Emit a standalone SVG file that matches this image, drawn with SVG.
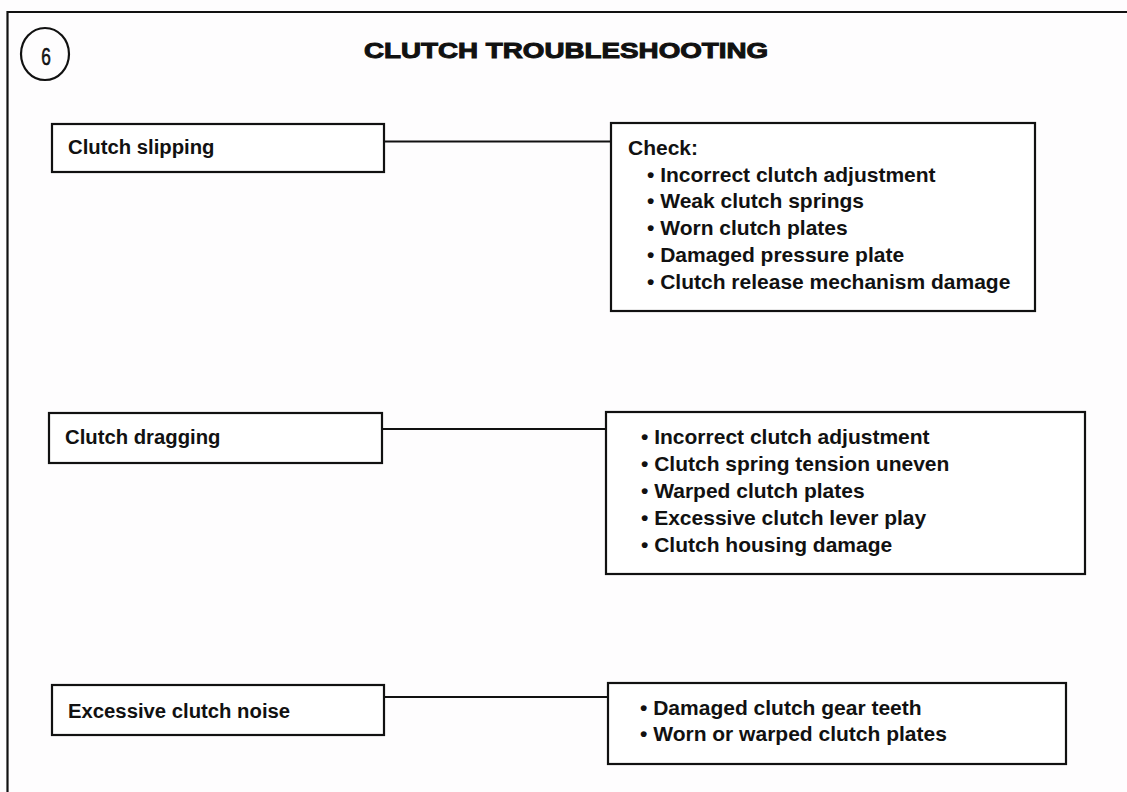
<svg xmlns="http://www.w3.org/2000/svg" width="1127" height="792" viewBox="0 0 1127 792">
<style>
.box{fill:#fff;stroke:#111;stroke-width:2.2}
.frame{fill:none;stroke:#111;stroke-width:2.2}
.conn{stroke:#111;stroke-width:2;fill:none}
.lbl{font-family:"Liberation Sans",Arial,sans-serif;font-weight:bold;font-size:20.3px;fill:#111}
.lst{font-family:"Liberation Sans",Arial,sans-serif;font-weight:bold;font-size:21px;fill:#111}
.title{font-family:"Liberation Sans",Arial,sans-serif;font-weight:bold;font-size:22.5px;fill:#111;stroke:#111;stroke-width:1}
.num{font-family:"Liberation Sans",Arial,sans-serif;font-size:24px;fill:#111;stroke:#111;stroke-width:0.6}
</style>
<rect width="1127" height="792" fill="#fefdfe"/>
<path class="frame" d="M7.5,800 V12 H1130"/>
<g id="badge">
<ellipse cx="45" cy="54" rx="24" ry="26" fill="none" stroke="#111" stroke-width="2.2"/>
<text class="num" transform="translate(46,65) scale(0.72,1)" text-anchor="middle">6</text>
</g>
<g id="title">
<text class="title" transform="translate(364,57.5) scale(1.235,1)">CLUTCH TROUBLESHOOTING</text>
</g>
<g id="connectors">
<line class="conn" x1="384" y1="141.5" x2="611" y2="141.5"/>
<line class="conn" x1="382" y1="429" x2="606" y2="429"/>
<line class="conn" x1="384" y1="697" x2="608" y2="697"/>
</g>
<g id="n-slipping">
<rect class="box" x="52" y="124" width="332" height="48"/>
<text class="lbl" x="68" y="154">Clutch slipping</text>
</g>
<g id="n-dragging">
<rect class="box" x="49" y="413" width="333" height="50"/>
<text class="lbl" x="65" y="444">Clutch dragging</text>
</g>
<g id="n-noise">
<rect class="box" x="52" y="685" width="332" height="50"/>
<text class="lbl" x="68" y="718">Excessive clutch noise</text>
</g>
<g id="n-check1">
<rect class="box" x="611" y="123" width="424" height="188"/>
<text class="lst" x="628" y="155">Check:</text>
<text class="lst" x="647" y="181.5">• Incorrect clutch adjustment</text>
<text class="lst" x="647" y="208.3">• Weak clutch springs</text>
<text class="lst" x="647" y="235.1">• Worn clutch plates</text>
<text class="lst" x="647" y="262">• Damaged pressure plate</text>
<text class="lst" x="647" y="288.8">• Clutch release mechanism damage</text>
</g>
<g id="n-check2">
<rect class="box" x="606" y="412" width="479" height="162"/>
<text class="lst" x="641" y="444">• Incorrect clutch adjustment</text>
<text class="lst" x="641" y="471">• Clutch spring tension uneven</text>
<text class="lst" x="641" y="498">• Warped clutch plates</text>
<text class="lst" x="641" y="525">• Excessive clutch lever play</text>
<text class="lst" x="641" y="552">• Clutch housing damage</text>
</g>
<g id="n-check3">
<rect class="box" x="608" y="683" width="458" height="81"/>
<text class="lst" x="640" y="715">• Damaged clutch gear teeth</text>
<text class="lst" x="640" y="741">• Worn or warped clutch plates</text>
</g>
</svg>
